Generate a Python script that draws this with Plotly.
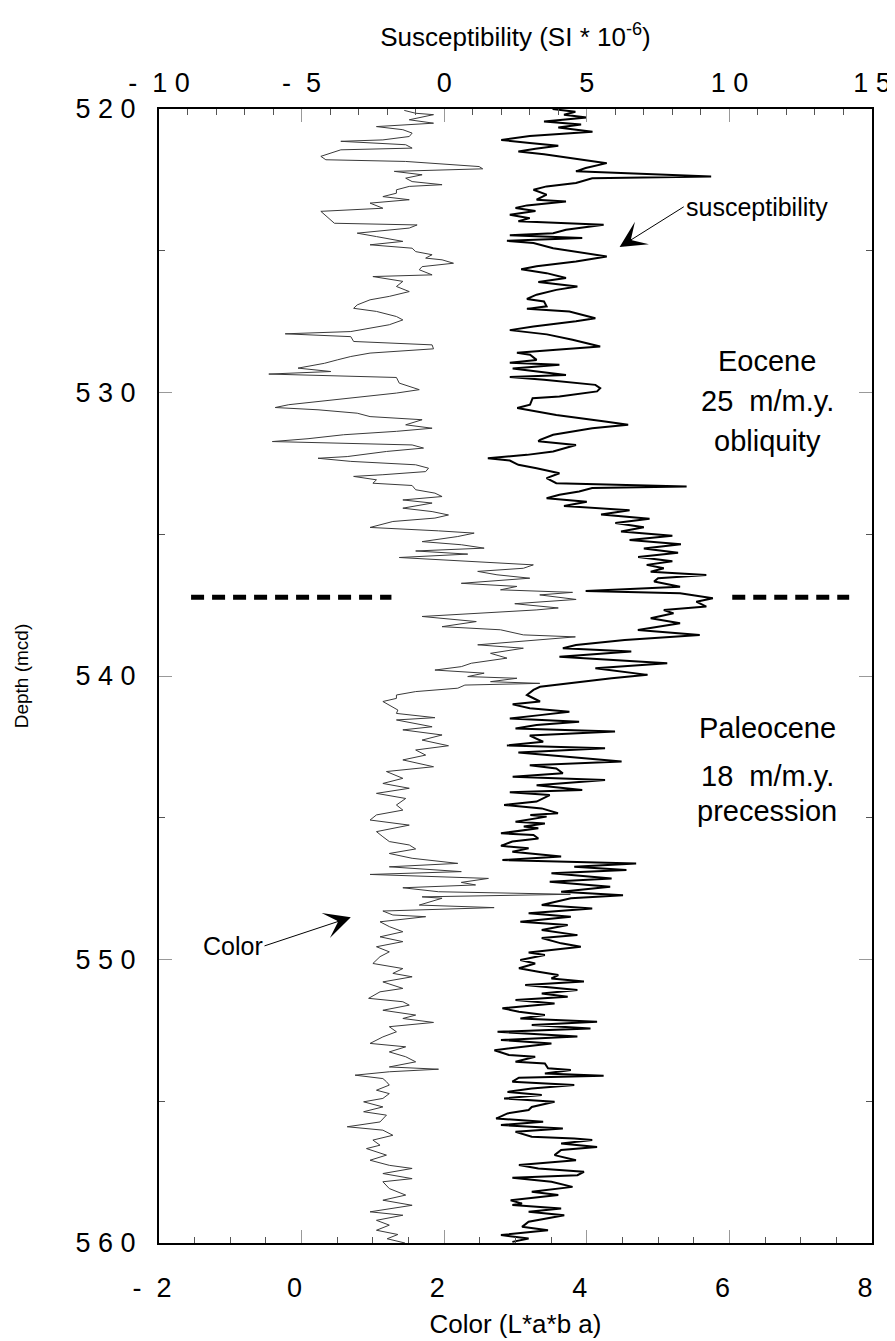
import plotly.graph_objects as go

# ---------------- data ----------------
# Color (L*a*b a) record: depth (mcd) and value
color_depth = [520.05, 520.15, 520.20, 520.38, 520.50, 520.62, 520.73, 520.85, 520.97, 521.09,
               521.14, 521.26, 521.38, 521.44, 521.67, 521.79, 521.85, 522.03, 522.11, 522.20,
               522.32, 522.44, 522.56, 522.67, 522.73, 522.85, 522.97, 523.09, 523.20, 523.32,
               523.50, 523.61, 524.03, 524.09, 524.20, 524.38, 524.50, 524.67, 524.79, 524.91,
               525.03, 525.14, 525.26, 525.32, 525.44, 525.56, 525.67, 525.85, 525.91, 526.08,
               526.26, 526.44, 526.61, 526.73, 526.91, 527.03, 527.14, 527.32, 527.44, 527.61,
               527.85, 527.93, 528.03, 528.20, 528.32, 528.46, 528.61, 528.73, 528.85, 528.97,
               529.14, 529.26, 529.35, 529.47, 529.67, 529.90, 530.02, 530.14, 530.32, 530.43,
               530.53, 530.61, 530.73, 530.85, 530.96, 531.14, 531.26, 531.37, 531.49, 531.63,
               531.73, 531.85, 531.96, 532.08, 532.26, 532.32, 532.43, 532.55, 532.67, 532.79,
               532.90, 532.96, 533.08, 533.20, 533.28, 533.43, 533.55, 533.67, 533.79, 533.90,
               534.08, 534.20, 534.32, 534.43, 534.55, 534.76, 534.88, 534.96, 535.08, 535.26,
               535.37, 535.49, 535.59, 535.70, 535.82, 535.96, 536.08, 536.20, 536.31, 536.43,
               536.55, 536.73, 536.84, 536.96, 537.05, 537.14, 537.30, 537.45, 537.60, 537.67,
               537.90, 538.08, 538.26, 538.37, 538.55, 538.62, 538.73, 538.90, 539.02, 539.20,
               539.37, 539.55, 539.67, 539.79, 539.90, 540.02, 540.08, 540.20, 540.26, 540.32,
               540.43, 540.55, 540.67, 540.79, 540.90, 541.02, 541.20, 541.32, 541.47, 541.55,
               541.79, 541.90, 542.08, 542.26, 542.46, 542.61, 542.79, 542.96, 543.20, 543.37,
               543.61, 543.79, 543.96, 544.14, 544.32, 544.55, 544.73, 544.90, 545.08, 545.26,
               545.49, 545.67, 545.84, 545.96, 546.10, 546.26, 546.43, 546.61, 546.73, 546.90,
               547.00, 547.14, 547.28, 547.37, 547.47, 547.61, 547.70, 547.79, 547.84, 548.08,
               548.17, 548.29, 548.43, 548.49, 548.67, 548.84, 549.02, 549.20, 549.37, 549.55,
               549.73, 549.90, 550.14, 550.32, 550.49, 550.61, 550.79, 551.02, 551.14, 551.37,
               551.49, 551.61, 551.79, 551.96, 552.08, 552.22, 552.37, 552.55, 552.73, 552.96,
               553.08, 553.26, 553.43, 553.61, 553.79, 553.87, 553.96, 554.08, 554.20, 554.31,
               554.43, 554.61, 554.73, 554.90, 555.02, 555.20, 555.37, 555.49, 555.73, 555.90,
               556.02, 556.20, 556.37, 556.55, 556.67, 556.90, 557.08, 557.26, 557.37, 557.55,
               557.73, 557.84, 558.08, 558.31, 558.49, 558.67, 558.90, 559.02, 559.20, 559.37,
               559.55, 559.70, 559.85, 560.00]
color_value = [1.44, 1.60, 1.85, 1.51, 1.85, 1.05, 1.42, 1.55, 1.51, 1.14,
               0.55, 1.46, 1.55, 0.55, 0.27, 0.34, 1.46, 2.49, 2.54, 1.30,
               1.69, 1.46, 1.55, 1.97, 1.51, 1.33, 1.33, 1.14, 1.51, 0.96,
               1.14, 0.27, 0.46, 1.62, 1.51, 0.78, 1.05, 1.42, 0.96, 1.55,
               1.60, 1.83, 1.74, 1.97, 2.13, 1.69, 1.65, 1.83, 1.00, 1.42,
               1.33, 1.51, 1.23, 0.96, 0.78, 0.73, 1.05, 1.33, 1.42, 1.23,
               0.69, -0.23, 0.69, 0.73, 1.83, 1.85, 0.96, 0.69, 0.50, 0.32,
               -0.05, 0.41, -0.46, 1.33, 1.37, 1.65, 1.33, 0.87, 0.18, -0.18,
               -0.37, 0.23, 0.78, 0.96, 1.69, 1.46, 1.83, 1.33, 0.59, 0.09,
               -0.41, 1.55, 1.71, 1.19, 0.64, 0.23, 0.69, 1.60, 1.78, 1.74,
               1.14, 0.73, 1.05, 1.00, 1.55, 1.60, 1.87, 1.97, 1.42, 1.83,
               1.42, 1.83, 2.06, 1.87, 1.28, 0.96, 1.92, 2.42, 2.19, 1.69,
               2.24, 2.56, 1.60, 2.33, 1.37, 2.47, 3.25, 3.11, 2.47, 2.74,
               3.20, 2.24, 3.02, 2.79, 3.80, 3.34, 3.85, 2.99, 3.60, 3.29,
               1.69, 2.45, 1.97, 2.79, 3.11, 3.84, 3.29, 2.47, 3.11, 2.65,
               2.88, 2.38, 2.24, 1.87, 2.56, 2.33, 3.02, 2.65, 3.34, 2.29,
               2.19, 1.60, 1.33, 1.33, 1.14, 1.23, 1.35, 1.33, 1.87, 1.33,
               1.83, 1.42, 1.97, 1.69, 2.06, 1.60, 1.74, 1.42, 1.85, 1.19,
               1.42, 1.14, 1.51, 1.05, 1.46, 1.33, 1.42, 1.05, 0.96, 1.51,
               1.05, 1.14, 1.23, 1.51, 1.60, 1.23, 1.55, 2.19, 1.23, 2.24,
               0.96, 2.62, 2.24, 2.44, 1.42, 1.92, 3.77, 1.69, 1.97, 1.65,
               2.70, 1.14, 1.28, 1.74, 1.10, 1.23, 1.42, 1.10, 1.42, 1.05,
               1.23, 1.10, 1.00, 1.42, 1.28, 1.55, 1.14, 1.42, 1.10, 0.94,
               1.42, 1.51, 1.14, 1.60, 1.42, 1.85, 1.23, 1.33, 1.14, 0.96,
               1.46, 1.23, 1.46, 1.60, 1.23, 1.92, 1.23, 0.75, 1.14, 1.19,
               1.23, 1.05, 1.23, 1.14, 0.87, 1.14, 0.87, 1.19, 1.10, 0.64,
               1.14, 1.28, 1.00, 1.10, 0.91, 1.19, 0.96, 1.23, 1.55, 1.14,
               1.55, 1.14, 1.23, 1.46, 1.14, 1.55, 0.96, 1.42, 1.05, 1.23,
               1.05, 1.35, 1.20, 1.45]

# Magnetic susceptibility record (SI * 10^-6): depth (mcd) and value
sus_depth = [520.00, 520.10, 520.20, 520.30, 520.44, 520.55, 520.65, 520.80, 520.95, 521.09,
             521.20, 521.30, 521.40, 521.50, 521.60, 521.73, 521.91, 522.08, 522.20, 522.38,
             522.44, 522.61, 522.73, 522.85, 523.02, 523.20, 523.26, 523.40, 523.49, 523.60,
             523.73, 523.85, 523.96, 524.08, 524.26, 524.38, 524.45, 524.55, 524.65, 524.73,
             524.91, 525.20, 525.38, 525.55, 525.65, 525.79, 525.96, 526.10, 526.26, 526.38,
             526.55, 526.70, 526.79, 526.96, 527.05, 527.14, 527.38, 527.49, 527.67, 527.80,
             527.95, 528.14, 528.38, 528.49, 528.60, 528.67, 528.85, 528.95, 529.02, 529.15,
             529.25, 529.38, 529.45, 529.55, 529.73, 529.85, 529.96, 530.14, 530.20, 530.43,
             530.55, 530.79, 531.02, 531.14, 531.26, 531.49, 531.67, 531.72, 531.85, 532.08,
             532.20, 532.32, 532.40, 532.55, 532.67, 532.85, 533.02, 533.20, 533.32, 533.37,
             533.49, 533.61, 533.73, 533.85, 534.00, 534.15, 534.30, 534.45, 534.60, 534.75,
             534.90, 535.05, 535.20, 535.35, 535.50, 535.65, 535.80, 535.95, 536.08, 536.20,
             536.32, 536.44, 536.55, 536.67, 536.85, 537.00, 537.08, 537.26, 537.38, 537.55,
             537.67, 537.79, 537.96, 538.14, 538.38, 538.55, 538.73, 538.91, 539.02, 539.14,
             539.32, 539.55, 539.73, 539.96, 540.08, 540.26, 540.38, 540.49, 540.67, 540.90,
             541.00, 541.14, 541.26, 541.38, 541.50, 541.61, 541.73, 541.85, 541.96, 542.10,
             542.32, 542.45, 542.55, 542.70, 542.79, 543.02, 543.15, 543.26, 543.43, 543.55,
             543.67, 543.85, 544.02, 544.10, 544.20, 544.43, 544.55,
             544.67, 544.84, 544.90, 544.96, 545.14, 545.20, 545.31, 545.37, 545.55, 545.61,
             545.73, 545.84, 545.99, 546.08, 546.20, 546.37, 546.49, 546.61, 546.73, 546.84,
             546.96, 547.14, 547.26, 547.43, 547.61, 547.73, 547.84, 548.08, 548.20, 548.37,
             548.49, 548.67, 548.78, 548.96, 549.14, 549.24, 549.43, 549.55, 549.67, 549.75,
             549.84, 550.02, 550.14, 550.31, 550.43, 550.55, 550.67, 550.78, 550.90, 551.08,
             551.20, 551.31, 551.43, 551.55, 551.72, 551.84, 551.96, 552.08, 552.20, 552.31,
             552.43, 552.55, 552.72, 552.84, 552.96, 553.20, 553.37, 553.43, 553.61, 553.67,
             553.84, 553.90, 554.02, 554.10, 554.17, 554.31, 554.43, 554.55, 554.67, 554.78,
             554.90, 555.02, 555.20, 555.31, 555.43, 555.61, 555.72, 555.84, 555.96, 556.08,
             556.25, 556.31, 556.37, 556.49, 556.61, 556.72, 556.90, 557.08, 557.25, 557.37,
             557.49, 557.61, 557.70, 557.84, 558.02, 558.19, 558.31, 558.49, 558.61, 558.66,
             558.78, 558.90, 559.02, 559.14, 559.25, 559.43, 559.55, 559.72, 559.84, 559.96]
sus_value = [3.8, 4.6, 4.2, 5.0, 3.5, 4.8, 4.0, 5.2, 3.0, 2.0,
             3.0, 4.0, 3.2, 2.6, 3.5, 4.5, 5.70, 4.96, 4.62, 9.36,
             5.19, 4.62, 3.59, 3.13, 3.59, 3.24, 4.27, 2.9, 2.5, 3.2,
             2.3, 3.0, 2.6, 5.59, 4.27, 3.82, 2.3, 4.84, 2.2, 3.13,
             3.82, 5.70, 4.62, 3.24, 2.7, 3.59, 4.27, 3.3, 4.67, 3.93,
             3.24, 2.9, 3.5, 3.59, 2.9, 4.39, 5.30, 4.62, 3.13, 2.3,
             3.6, 4.50, 5.47, 3.93, 2.55, 3.01, 3.24, 2.3, 4.04, 2.4,
             3.3, 4.27, 2.3, 3.5, 5.30, 5.47, 5.36, 4.04, 3.1, 3.01,
             2.56, 3.93, 5.64, 6.45, 5.19, 3.82, 3.36, 3.3, 4.62, 3.82,
             2.9, 1.53, 2.3, 2.6, 3.24, 4.04, 3.59, 3.93, 8.50, 5.19,
             4.73, 4.04, 3.59, 5.0, 4.2, 6.5, 5.5, 7.2, 6.0, 7.0,
             6.2, 8.0, 6.5, 8.3, 7.0, 8.2, 6.8, 8.0, 7.1, 7.70,
             7.24, 9.19, 7.5, 7.36, 8.27, 4.96, 8.27, 9.42, 8.84, 9.19,
             7.70, 8.04, 7.24, 8.27, 6.79, 8.96, 6.33, 4.62, 4.16, 6.56,
             4.04, 7.82, 5.30, 7.13, 5.87, 4.27, 3.36, 3.13, 2.9, 3.36,
             2.4, 3.0, 4.39, 3.36, 2.3, 4.73, 3.24, 2.5, 5.99, 3.0,
             3.47, 2.2, 5.64, 2.6, 3.59, 6.22, 3.0, 3.93, 4.16, 2.4,
             5.64, 3.24, 4.84, 2.3, 3.70, 3.24, 2.1,
             3.42, 3.99, 3.02, 3.59, 2.50, 3.53, 2.79, 3.30, 1.99, 3.13,
             3.30, 2.39, 1.99, 2.96, 2.39, 4.10, 2.04, 6.73, 4.56, 6.39,
             3.76, 5.87, 3.70, 5.82, 4.10, 6.27, 4.44, 3.42, 5.19, 2.96,
             4.44, 2.67, 4.33, 3.42, 4.67, 3.42, 4.10, 4.79, 3.76, 2.96,
             3.53, 2.67, 3.19, 2.62, 3.30, 4.00, 3.76, 4.90, 2.84, 4.67,
             3.42, 4.33, 2.50, 3.87, 2.04, 2.62, 3.53, 2.67, 5.36, 3.07,
             5.13, 1.87, 4.67, 1.99, 3.76, 1.76, 2.27, 3.19, 2.50, 3.53,
             3.64, 4.44, 3.53, 5.59, 2.62, 2.39, 4.56, 3.07, 2.22, 3.42,
             2.10, 3.87, 3.07, 2.96, 2.22, 1.82, 3.47, 1.99, 4.16, 2.50,
             3.07, 4.56, 5.19, 4.10, 5.36, 4.10, 3.87, 4.62, 2.62, 3.30,
             4.90, 4.67, 2.39, 3.76, 4.50, 3.07, 4.00, 2.33, 2.73, 2.39,
             4.10, 2.96, 4.21, 3.53, 2.96, 2.73, 3.64, 1.99, 2.96, 2.39]

# Eocene / Paleocene boundary marker (dashed), in Color-axis units
boundary_depth = 537.22
boundary_left = [-1.55, 1.26]
boundary_right = [6.04, 7.68]

# axis ticks and labels
color_ticks = [-2, 0, 2, 4, 6, 8]
color_ticktext = ["-\u00a0\u00a02", "0", "2", "4", "6", "8"]
sus_ticks = [-10, -5, 0, 5, 10, 15]
sus_ticktext = ["-\u00a0\u00a01 0", "-\u00a0\u00a05", "0", "5", "1 0", "1 5"]
depth_ticks = [520, 530, 540, 550, 560]
depth_ticktext = ["5 2 0", "5 3 0", "5 4 0", "5 5 0", "5 6 0"]

FONT = "Liberation Sans, Arial, Helvetica, sans-serif"

fig = go.Figure()

fig.add_trace(go.Scatter(
    x=color_value, y=color_depth, mode="lines", name="Color",
    line=dict(color="#3a3a3a", width=1), xaxis="x", yaxis="y", showlegend=False))

fig.add_trace(go.Scatter(
    x=sus_value, y=sus_depth, mode="lines", name="susceptibility",
    line=dict(color="black", width=2), xaxis="x2", yaxis="y", showlegend=False))

for seg in (boundary_left, boundary_right):
    fig.add_trace(go.Scatter(
        x=seg, y=[boundary_depth, boundary_depth], mode="lines", showlegend=False,
        line=dict(color="black", width=5, dash="13px,8px"), xaxis="x", yaxis="y",
        hoverinfo="skip"))

tick_common = dict(ticks="inside", ticklen=13, tickwidth=1, tickcolor="#999",
                   showgrid=False, zeroline=False, showline=True, linecolor="black",
                   linewidth=2)

fig.update_layout(
    width=895, height=1341,
    margin=dict(l=144, r=23, t=101, b=106),
    paper_bgcolor="white", plot_bgcolor="white",
    font=dict(family=FONT, color="black"),
    xaxis=dict(
        range=[-2, 8], tickmode="array", tickvals=color_ticks, ticktext=color_ticktext,
        tickfont=dict(size=27), ticklabelstandoff=20, ticklabelshift=-7,
        minor=dict(dtick=0.5, tick0=0, ticks="inside", ticklen=6, tickcolor="#555", tickwidth=1),
        title=dict(text="Color (L*a*b a)", font=dict(size=26), standoff=12),
        mirror=False, **tick_common),
    xaxis2=dict(
        range=[-10, 15], overlaying="x", side="top", anchor="y",
        tickmode="array", tickvals=sus_ticks, ticktext=sus_ticktext,
        tickfont=dict(size=27), ticklabelstandoff=4,
        minor=dict(dtick=1, tick0=0, ticks="inside", ticklen=6, tickcolor="#555", tickwidth=1),
        title=dict(text="Susceptibility (SI * 10<sup>-6</sup>)", font=dict(size=26), standoff=14),
        **tick_common),
    yaxis=dict(
        range=[560, 520], tickmode="array", tickvals=depth_ticks, ticktext=depth_ticktext,
        tickfont=dict(size=27), ticklabelstandoff=16,
        minor=dict(dtick=5, tick0=520, ticks="inside", ticklen=6, tickcolor="#555", tickwidth=1),
        title=dict(text="Depth (mcd)", font=dict(size=19), standoff=42),
        mirror="ticks", **tick_common),
)

# period / rate / cycle annotations
label_x = 6.53
for txt, d in [("Eocene", 528.90), ("25\u00a0\u00a0m/m.y.", 530.31), ("obliquity", 531.72),
               ("Paleocene", 541.85), ("18\u00a0\u00a0m/m.y.", 543.51), ("precession", 544.75)]:
    fig.add_annotation(x=label_x, y=d, xref="x", yref="y", text=txt, showarrow=False,
                       font=dict(size=29, family=FONT), xanchor="center", yanchor="middle")

# record labels with arrows (text sits at the arrow tail)
fig.add_annotation(x=4.46, y=524.87, xref="x", yref="y", ax=5.36, ay=523.45,
                   axref="x", ayref="y", text="susceptibility", showarrow=True,
                   xanchor="left", yanchor="middle",
                   font=dict(size=25, family=FONT),
                   arrowhead=3, arrowsize=4.4, arrowwidth=1, arrowcolor="black")

fig.add_annotation(x=0.69, y=548.51, xref="x", yref="y", ax=-0.52, ay=549.52,
                   axref="x", ayref="y", text="Color", showarrow=True,
                   xanchor="right", yanchor="middle",
                   font=dict(size=25, family=FONT),
                   arrowhead=3, arrowsize=4.4, arrowwidth=1, arrowcolor="black")

fig.write_html("out.html")
